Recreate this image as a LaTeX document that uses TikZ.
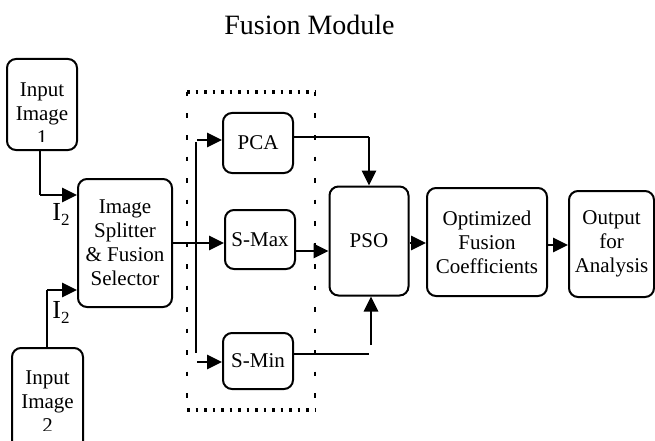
\documentclass[tikz,border=0pt]{standalone}
\usepackage{fontspec}
\setmainfont{Liberation Serif}
\usetikzlibrary{arrows.meta}

\tikzset{
  blk/.style={draw, line width=2pt, rounded corners=9pt, inner sep=0pt,
              align=center, font=\fontsize{21}{24}\selectfont},
  thinline/.style={line width=1.3pt},
  arr/.style={line width=2.8pt, -{Triangle[length=15pt,width=14pt]}},
  lbl/.style={font=\fontsize{26}{26}\selectfont, inner sep=0pt},
  dotsh/.style={line width=4.5pt, dash pattern=on 2.5pt off 6pt},
  dotsv/.style={line width=2.6pt, dash pattern=on 4.5pt off 17pt}
}

\begin{document}
\begin{tikzpicture}[x=1pt, y=-1pt]
\clip (0,0) rectangle (655,441);
\fill[white] (0,0) rectangle (655,441);

% title
\node[font=\fontsize{28}{28}\selectfont, anchor=base, inner sep=0pt] (title) at (309.5,35) {Fusion Module};

% input frames
\node[blk, minimum width=70pt, minimum height=91pt] (in1) at (42,104.5) {};
\node[blk, minimum width=71pt, minimum height=104pt] (in2) at (47.5,400) {};
\begin{scope}
  \clip (0,59) rectangle (90,141);
  \node[align=center, font=\fontsize{21}{24}\selectfont, anchor=north, inner sep=0pt] (in1t) at (42,83) {Input\\Image\\1};
\end{scope}
\begin{scope}
  \clip (0,348) rectangle (95,430);
  \node[align=center, font=\fontsize{21}{24}\selectfont, anchor=north, inner sep=0pt] (in2t) at (47.5,371) {Input\\Image\\2};
\end{scope}

% processing blocks
\node[blk, minimum width=94pt, minimum height=128pt] (split) at (125,243) {Image\\Splitter\\\& Fusion\\Selector};
\node[blk, minimum width=70pt, minimum height=60pt] (pca) at (258,143) {PCA};
\node[blk, minimum width=70pt, minimum height=59pt] (smax) at (260,239.5) {S-Max};
\node[blk, minimum width=70pt, minimum height=56pt] (smin) at (258,361) {S-Min};
\node[blk, minimum width=79pt, minimum height=109pt] (pso) at (369,241) {PSO};
\node[blk, minimum width=120pt, minimum height=108pt] (opt) at (487,242) {Optimized\\Fusion\\Coefficients};
\node[blk, minimum width=85pt, minimum height=106pt] (out) at (611.5,244) {Output\\for\\Analysis};

% dotted frame round the fusion rules
\coordinate (fa) at (187,92);
\coordinate (fb) at (315,92);
\coordinate (fc) at (315,410);
\coordinate (fd) at (187,410);
\draw[dotsh] (fa) -- (fb);
\draw[dotsh] (fd) -- (fc);
\draw[dotsv] (fa) -- (fd);
\draw[dotsv] (fb) -- (fc);

% inputs into the splitter
\coordinate (a1) at (40,195);
\draw[thinline] (in1.south -| a1) -- (a1);
\draw[arr] (a1) -- (a1 -| split.west);
\node[lbl] (i2a) at (61,214) {I\raisebox{-5pt}{\fontsize{17}{17}\selectfont 2}};

\coordinate (a2) at (47,290);
\draw[thinline] (in2.north -| a2) -- (a2);
\draw[arr] (a2) -- (a2 -| split.west);
\node[lbl] (i2b) at (61,312) {I\raisebox{-5pt}{\fontsize{17}{17}\selectfont 2}};

% splitter to the bus
\coordinate (bt) at (196,142);
\coordinate (bb) at (196,353);
\draw[thinline] (split.east) -- (split.east -| bt);
\draw[thinline] (bt) -- (bb);
\coordinate (b1) at (197,140);
\coordinate (b2) at (197,243);
\coordinate (b3) at (197,362);
\draw[arr] (b1) -- (b1 -| pca.west);
\draw[arr] (b2) -- (b2 -| smax.west);
\draw[arr] (b3) -- (b3 -| smin.west);

% rules into PSO
\coordinate (p1) at (369,137);
\draw[thinline] (p1 -| pca.east) -- (p1);
\draw[arr] (p1) -- (p1 |- pso.north);
\coordinate (p2) at (295,251);
\draw[arr] (p2 -| smax.east) -- (p2 -| pso.west);
\coordinate (p3) at (369,354);
\draw[thinline] (p3 -| smin.east) -- (p3);
\coordinate (p4) at (371,345);
\draw[arr] (p4) -- (p4 |- pso.south);

% PSO onwards
\coordinate (q1) at (400,243);
\draw[arr] (q1 -| pso.east) -- (q1 -| opt.west);
\coordinate (q2) at (550,245);
\draw[arr] (q2 -| opt.east) -- (q2 -| out.west);
\end{tikzpicture}
\end{document}
